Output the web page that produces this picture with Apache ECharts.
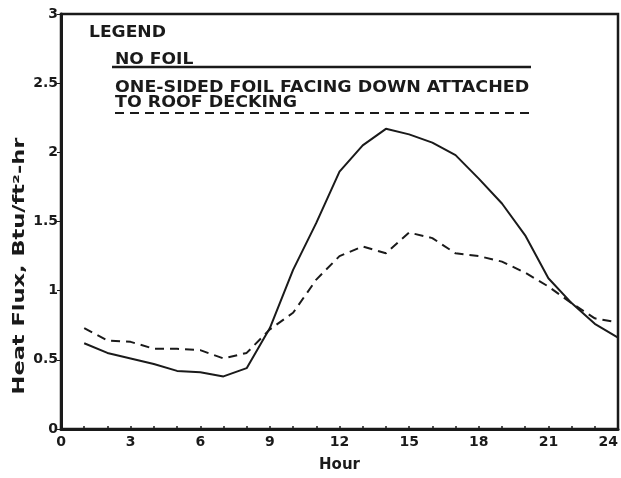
<!DOCTYPE html>
<html>
<head>
<meta charset="utf-8">
<script src="https://cdn.jsdelivr.net/npm/echarts@6/dist/echarts.min.js"></script>
<style>
html,body{margin:0;padding:0;background:#fff;}
#chart{width:621px;height:478px;}
</style>
</head>
<body>
<div id="chart"></div>
<script>
const hours = [1,2,3,4,5,6,7,8,9,10,11,12,13,14,15,16,17,18,19,20,21,22,23,24];
const noFoil = [0.62,0.55,0.51,0.47,0.42,0.41,0.38,0.44,0.73,1.15,1.49,1.86,2.05,2.17,2.13,2.07,1.98,1.81,1.63,1.40,1.09,0.91,0.76,0.66];
const foilDown = [0.73,0.64,0.63,0.58,0.58,0.57,0.51,0.55,0.72,0.84,1.08,1.25,1.32,1.27,1.42,1.38,1.27,1.25,1.21,1.13,1.03,0.91,0.80,0.77];
const seriesNames = ['NO FOIL', 'ONE-SIDED FOIL FACING DOWN ATTACHED', 'TO ROOF DECKING'];
const xTicks = [0,3,6,9,12,15,18,21,24];
const yTicks = [0,0.5,1,1.5,2,2.5,3];

const ink = '#1a1a1a';
const FONT = '"DejaVu Sans", sans-serif';
const chart = echarts.init(document.getElementById('chart'), null, {renderer: 'canvas'});

function label(text, x, y, sx) {
  return {
    type: 'text', left: x, top: y, scaleX: sx || 1.07,
    style: {text: text, font: 'bold 16px ' + FONT, fill: ink}
  };
}

chart.setOption({
  animation: false,
  backgroundColor: '#fff',
  grid: {left: 61, right: 3, top: 14, bottom: 49, containLabel: false, outerBoundsMode: 'none',
         show: true, borderColor: ink, borderWidth: 2.5},
  xAxis: {
    type: 'value', min: xTicks[0], max: xTicks[xTicks.length - 1], interval: 3,
    name: 'Hour', nameLocation: 'middle', nameGap: 29,
    nameTextStyle: {fontFamily: FONT, fontWeight: 'bold', fontSize: 15, color: ink},
    axisLine: {show: true, lineStyle: {color: ink, width: 3}},
    axisTick: {show: true, inside: true, length: 3, lineStyle: {color: ink, width: 1.5}},
    minorTick: {show: true, splitNumber: 3, length: 3, lineStyle: {color: ink, width: 1.5}},
    splitLine: {show: false},
    axisLabel: {fontFamily: FONT, fontWeight: 'bold', fontSize: 14, color: ink, margin: 6, alignMaxLabel: 'right'}
  },
  yAxis: {
    type: 'value', min: yTicks[0], max: yTicks[yTicks.length - 1], interval: 0.5,
    axisLine: {show: true, lineStyle: {color: ink, width: 3}},
    axisTick: {show: true, inside: false, length: 4, lineStyle: {color: ink, width: 1}},
    splitLine: {show: false},
    axisLabel: {fontFamily: FONT, fontWeight: 'bold', fontSize: 14, color: ink, margin: 3}
  },
  graphic: [
    label('LEGEND', 89, 25),
    label(seriesNames[0], 115, 52),
    {type: 'line', shape: {x1: 112, y1: 67, x2: 531, y2: 67}, style: {stroke: ink, lineWidth: 2.5}},
    label(seriesNames[1], 115, 80, 1.09),
    label(seriesNames[2], 115, 95, 1.09),
    {type: 'line', shape: {x1: 115, y1: 113, x2: 531, y2: 113}, style: {stroke: ink, lineWidth: 2, lineDash: [9, 6]}},
    {
      type: 'text', x: 20, y: 266, rotation: Math.PI / 2, scaleX: 1.5,
      style: {text: 'Heat Flux, Btu/ft\u00b2-hr', font: 'bold 15px ' + FONT, fill: ink, align: 'center', verticalAlign: 'middle'}
    }
  ],
  series: [
    {
      name: seriesNames[0], type: 'line', symbol: 'none',
      data: hours.map((h, i) => [h, noFoil[i]]),
      lineStyle: {color: ink, width: 2}
    },
    {
      name: seriesNames[1], type: 'line', symbol: 'none',
      data: hours.map((h, i) => [h, foilDown[i]]),
      lineStyle: {color: ink, width: 2, type: [9, 6]}
    }
  ]
});
</script>
</body>
</html>
